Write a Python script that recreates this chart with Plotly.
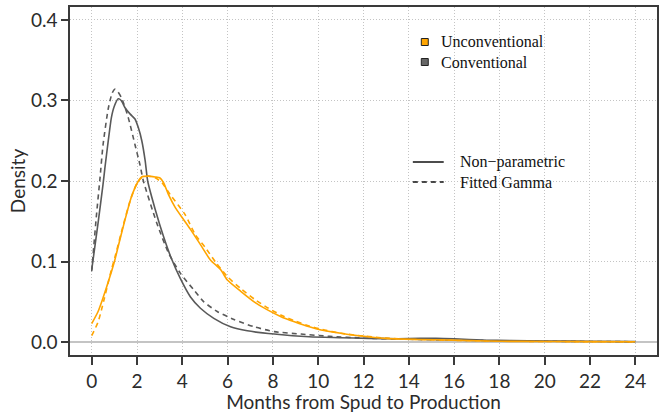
import plotly.graph_objects as go

# Conventional wells: kernel density estimate and fitted gamma density
conv_np_x = [0, 0.28, 0.5, 0.58, 0.73, 0.87, 1.0, 1.17, 1.3, 1.47, 1.7, 1.91, 2.06, 2.21, 2.36,
             2.47, 2.8, 3.17, 3.5, 3.91, 4.36, 4.8, 5.39, 6.13, 6.87, 8.06, 9.6, 11, 12.2, 13.5,
             14.5, 15.2, 16, 17.3, 18.5, 20, 22, 24]
conv_np_y = [0.090, 0.148, 0.196, 0.216, 0.250, 0.279, 0.293, 0.302, 0.300, 0.291, 0.283, 0.277,
             0.266, 0.250, 0.225, 0.200, 0.165, 0.131, 0.105, 0.079, 0.056, 0.042, 0.0295, 0.019,
             0.014, 0.010, 0.0066, 0.0055, 0.0046, 0.0042, 0.0046, 0.0048, 0.0042, 0.0025, 0.0018,
             0.0014, 0.0010, 0.0007]

conv_gm_x = [0, 0.1, 0.2, 0.36, 0.5, 0.73, 0.9, 1.02, 1.15, 1.32, 1.61, 1.91, 2.13, 2.28, 2.87,
             3.4, 3.91, 4.5, 4.95, 5.54, 6.28, 7.17, 8.06, 9.24, 10.5, 12, 14, 16, 18, 20, 22, 24]
conv_gm_y = [0.088, 0.122, 0.155, 0.202, 0.245, 0.290, 0.309, 0.314, 0.311, 0.303, 0.279, 0.245,
             0.220, 0.200, 0.148, 0.110, 0.0856, 0.065, 0.050, 0.038, 0.028, 0.019, 0.013, 0.010,
             0.0072, 0.0050, 0.0035, 0.0024, 0.0016, 0.0011, 0.0008, 0.0005]

# Unconventional wells: kernel density estimate and fitted gamma density
unc_np_x = [0, 0.28, 0.5, 0.8, 1.02, 1.17, 1.47, 1.76, 2.06, 2.2, 2.5, 2.8, 3.0, 3.17, 3.39, 3.69,
            4.06, 4.36, 4.8, 5.24, 5.69, 5.99, 6.58, 7.17, 7.76, 8.36, 8.95, 9.61, 10.13, 11.0,
            11.9, 12.95, 14.4, 15.9, 18.1, 20, 22, 24]
unc_np_y = [0.023, 0.038, 0.055, 0.081, 0.102, 0.119, 0.152, 0.181, 0.200, 0.205, 0.206, 0.205,
            0.204, 0.198, 0.183, 0.167, 0.152, 0.140, 0.121, 0.102, 0.090, 0.077, 0.063, 0.050,
            0.040, 0.0316, 0.0253, 0.019, 0.015, 0.011, 0.0075, 0.0046, 0.0033, 0.0025, 0.0010,
            0.0008, 0.0006, 0.0005]

unc_gm_x = [0, 0.28, 0.43, 0.87, 1.02, 1.39, 1.69, 1.99, 2.2, 2.5, 2.8, 3.1, 3.47, 4.13, 4.58, 5.0,
            5.5, 6.0, 6.6, 7.2, 7.8, 8.4, 9.0, 9.6, 10.2, 11, 12, 13, 14.5, 16, 18, 20, 22, 24]
unc_gm_y = [0.008, 0.025, 0.040, 0.090, 0.105, 0.145, 0.175, 0.197, 0.204, 0.206, 0.204, 0.198,
            0.183, 0.158, 0.133, 0.118, 0.098, 0.081, 0.066, 0.053, 0.042, 0.033, 0.026, 0.020,
            0.0155, 0.011, 0.0075, 0.0050, 0.0032, 0.0022, 0.0013, 0.0008, 0.0005, 0.0003]

x_ticks = list(range(0, 25, 2))
y_ticks = [0.0, 0.1, 0.2, 0.3, 0.4]

ORANGE = "#FFA500"
GREY = "#595959"
DASH = "5px,4px"

fig = go.Figure()
series = [
    (conv_gm_x, conv_gm_y, GREY, DASH),
    (unc_gm_x, unc_gm_y, ORANGE, DASH),
    (conv_np_x, conv_np_y, GREY, "solid"),
    (unc_np_x, unc_np_y, ORANGE, "solid"),
]
for xs, ys, col, dash in series:
    fig.add_trace(go.Scatter(
        x=xs, y=ys, mode="lines",
        line=dict(color=col, width=1.6, dash=dash, shape="spline", smoothing=0.6),
        showlegend=False, hoverinfo="skip",
    ))

W, H = 661, 413
ML, MR, MT, MB = 70, 2, 7, 58
PW, PH = W - ML - MR, H - MT - MB


def px(xp):
    return (xp - ML) / PW


def py(yp):
    return (H - MB - yp) / PH


shapes = []
annotations = []
legend_font = dict(family="Liberation Serif", size=16, color="#111111")

# group legend: coloured squares
for yp, col, label in [(42, ORANGE, "Unconventional"), (62, "#666666", "Conventional")]:
    shapes.append(dict(type="rect", xref="paper", yref="paper",
                       x0=px(422.5), x1=px(429.5), y0=py(yp + 3.5), y1=py(yp - 3.5),
                       fillcolor=col, line=dict(color="#222222", width=1)))
    annotations.append(dict(xref="paper", yref="paper", x=px(440), y=py(yp),
                            xanchor="left", yanchor="middle", text=label, showarrow=False,
                            font=legend_font))

# line-type legend
for yp, dash, label in [(162, "solid", "Non\u2212parametric"), (182, DASH, "Fitted Gamma")]:
    shapes.append(dict(type="line", xref="paper", yref="paper",
                       x0=px(414), x1=px(445), y0=py(yp), y1=py(yp),
                       line=dict(color="#111111", width=1.5, dash=dash)))
    annotations.append(dict(xref="paper", yref="paper", x=px(459), y=py(yp),
                            xanchor="left", yanchor="middle", text=label, showarrow=False,
                            font=legend_font))

axis_font = dict(family="Lato", size=19, color="#2b2b2b")
GRID_DASH = "1px,2px"

fig.update_layout(
    width=W, height=H,
    margin=dict(l=ML, r=MR, t=MT, b=MB),
    paper_bgcolor="white", plot_bgcolor="white",
    shapes=shapes, annotations=annotations,
    xaxis=dict(
        range=[-0.96, 24.96], tickvals=x_ticks, ticktext=[str(v) for v in x_ticks],
        showgrid=True, gridcolor="#c4c4c4", griddash=GRID_DASH, gridwidth=1,
        zeroline=False, showline=True, mirror=True, linecolor="#3a3a3a", linewidth=1.5,
        ticks="outside", ticklen=8, tickcolor="#3a3a3a", tickwidth=1.5,
        tickfont=axis_font,
        title=dict(text="Months from Spud to Production", font=axis_font, standoff=6),
    ),
    yaxis=dict(
        range=[-0.016, 0.416], tickvals=y_ticks, tickformat=".1f",
        showgrid=True, gridcolor="#c4c4c4", griddash=GRID_DASH, gridwidth=1,
        zeroline=True, zerolinecolor="#c4c4c4", zerolinewidth=2,
        showline=True, mirror=True, linecolor="#3a3a3a", linewidth=1.5,
        ticks="outside", ticklen=7, tickcolor="#3a3a3a", tickwidth=1.5,
        tickfont=axis_font,
        title=dict(text="Density", font=axis_font, standoff=0),
    ),
)

fig.write_html("out.html")
